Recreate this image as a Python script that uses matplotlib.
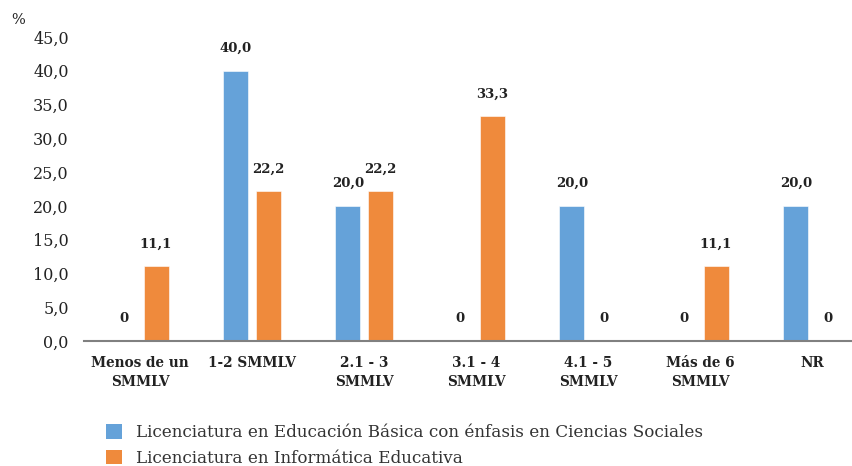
import numpy as np
import matplotlib
matplotlib.use("Agg")
import matplotlib.pyplot as plt
from matplotlib.patches import Patch

plt.rcParams['font.family'] = ['DejaVu Serif']

categorias = ["Menos de un\nSMMLV", "1-2 SMMLV", "2.1 - 3\nSMMLV", "3.1 - 4\nSMMLV",
              "4.1 - 5\nSMMLV", "Más de 6\nSMMLV", "NR"]
basica = [0, 40.0, 20.0, 0, 20.0, 0, 20.0]
informatica = [11.1, 22.2, 22.2, 33.3, 0, 11.1, 0]
series_nombres = ["Licenciatura en Educación Básica con énfasis en Ciencias Sociales",
                  "Licenciatura en Informática Educativa"]
yticks = [0, 5, 10, 15, 20, 25, 30, 35, 40, 45]

azul = "#65A2D9"
naranja = "#EF8A3C"
texto = "#222222"


def etiqueta(v):
    # los ceros van sin decimales
    if v == 0:
        return "0"
    return ("%.1f" % v).replace(".", ",")


fig = plt.figure(figsize=(8.52, 4.66), dpi=100)
W, H = 852, 466
ax = fig.add_axes([84 / W, (H - 341) / H, (868 - 84) / W, (341 - 37) / H])

x = np.arange(len(categorias))
ancho = 0.223
desp = 0.143
b1 = ax.bar(x - desp, basica, ancho, color=azul, edgecolor="white", linewidth=0.4)
b2 = ax.bar(x + desp, informatica, ancho, color=naranja, edgecolor="white", linewidth=0.4)

for barras in (b1, b2):
    for r in barras:
        v = r.get_height()
        ax.annotate(etiqueta(v), (r.get_x() + r.get_width() / 2, v),
                    xytext=(0, 16), textcoords="offset points",
                    ha="center", va="center", fontsize=9.5, fontweight="bold", color=texto)

ax.set_xlim(-0.5, 6.5)
ax.set_ylim(0, 45)
ax.set_yticks(yticks)
ax.set_yticklabels([("%.1f" % t).replace(".", ",") for t in yticks], fontsize=11.5, color=texto)
ax.set_xticks(x)
ax.set_xticklabels(categorias, fontsize=9.8, fontweight="bold", color=texto, linespacing=1.45)
ax.tick_params(axis="y", length=0, pad=11)
ax.tick_params(axis="x", length=0, pad=11)
for s in ("top", "right", "left"):
    ax.spines[s].set_visible(False)
ax.spines["bottom"].set_color("#808080")
ax.spines["bottom"].set_linewidth(1.5)

fig.text(11 / W, 1 - 20 / H, "%", fontsize=10.5, color=texto, va="center")

handles = [Patch(facecolor=azul), Patch(facecolor=naranja)]
fig.legend(handles, series_nombres, loc="upper left", bbox_to_anchor=(91 / W, 1 - 409 / H),
           frameon=False, fontsize=12.1, handlelength=0.95, handleheight=0.95,
           handletextpad=0.85, labelspacing=0.5, labelcolor="#333333")

fig.savefig("out.png", dpi=100)
